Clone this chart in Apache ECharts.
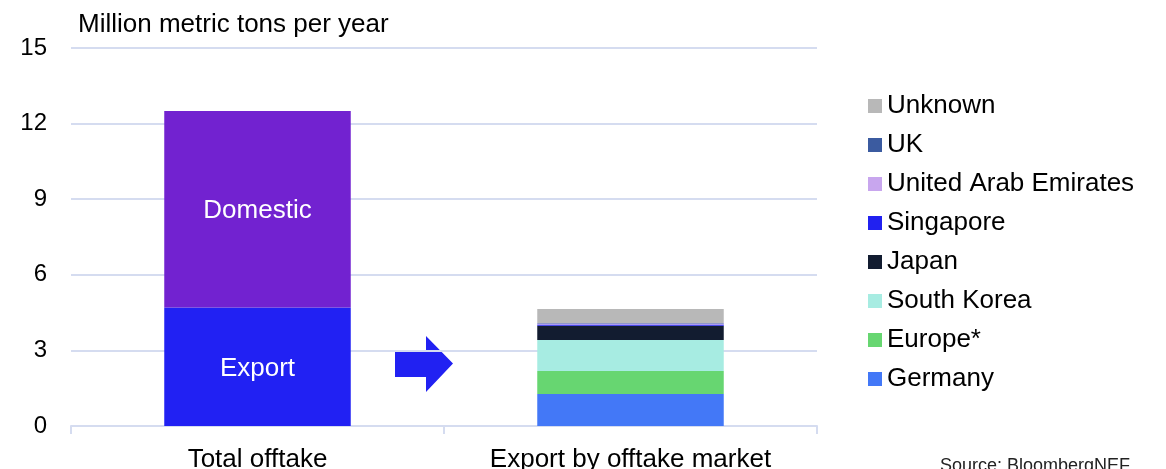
<!DOCTYPE html>
<html>
<head>
<meta charset="utf-8">
<script src="https://cdn.jsdelivr.net/npm/echarts@6/dist/echarts.min.js"></script>
<style>
html,body{margin:0;padding:0;background:#fff;}
#chart{width:1166px;height:469px;}
</style>
</head>
<body>
<div id="chart"></div>
<script>
// ---- data ----
const categories = ['Total offtake', 'Export by offtake market'];
const yTicks = [0, 3, 6, 9, 12, 15];
const totalNames = ['Export', 'Domestic'];
const totalValues = [4.7, 7.8];
const marketNames = ['Germany', 'Europe*', 'South Korea', 'Japan', 'Singapore', 'United Arab Emirates', 'UK', 'Unknown'];
const marketValues = [1.27, 0.91, 1.23, 0.57, 0.05, 0.04, 0.02, 0.55];

// ---- styles ----
const FONT = '"Liberation Sans", Arial, sans-serif';
const totalColors = ['#2121F3', '#7222D0'];
const marketColors = ['#4378F7', '#67D671', '#A7ECE2', '#121C30', '#2121F0', '#C8A6EE', '#3B5BA0', '#B8B8B8'];
const gridColor = '#D5DCF0';

const series = [];
totalNames.forEach((n, i) => {
  series.push({
    name: n, type: 'bar', stack: 'all', barWidth: '50%',
    data: [totalValues[i], null],
    itemStyle: { color: totalColors[i] },
    label: { show: true, position: 'inside', formatter: '{a}', color: '#fff', fontSize: 26, fontFamily: FONT, offset: [0, 2] }
  });
});
marketNames.forEach((n, i) => {
  series.push({
    name: n, type: 'bar', stack: 'all', barWidth: '50%',
    data: [null, marketValues[i]],
    itemStyle: { color: marketColors[i] }
  });
});

const chart = echarts.init(document.getElementById('chart'));
chart.setOption({
  animation: false,
  backgroundColor: '#fff',
  title: {
    text: 'Million metric tons per year', left: 73, top: 7,
    textStyle: { fontSize: 26, fontWeight: 'normal', color: '#000', fontFamily: FONT }
  },
  grid: { left: 71, right: 349, top: 48, bottom: 43, containLabel: false, outerBoundsMode: 'none' },
  legend: {
    orient: 'vertical', left: 863, top: 88, selectedMode: false,
    data: marketNames.slice().reverse(),
    icon: 'rect', itemWidth: 14, itemHeight: 14, itemGap: 13,
    textStyle: { fontSize: 26, lineHeight: 26, color: '#000', fontFamily: FONT }
  },
  xAxis: {
    type: 'category', data: categories,
    axisLine: { lineStyle: { color: gridColor, width: 2 } },
    axisTick: { show: true, length: 8, lineStyle: { color: gridColor, width: 2 } },
    axisLabel: { fontSize: 26, color: '#000', margin: 21, fontFamily: FONT }
  },
  yAxis: {
    type: 'value', min: yTicks[0], max: yTicks[yTicks.length - 1], interval: yTicks[1] - yTicks[0],
    axisLine: { show: false }, axisTick: { show: false },
    splitLine: { lineStyle: { color: gridColor, width: 2 } },
    axisLabel: { fontSize: 24, color: '#000', margin: 24, fontFamily: FONT }
  },
  graphic: [
    {
      type: 'polygon',
      shape: { points: [[395, 350], [426, 350], [426, 336], [453, 363.5], [426, 392], [426, 377], [395, 377]] },
      style: { fill: '#2121F2' }
    },
    {
      type: 'text', left: 940, top: 457,
      style: { text: 'Source: BloombergNEF', fontSize: 18, fill: '#222', font: '18px "Liberation Sans", Arial, sans-serif' }
    }
  ],
  series: series
});
</script>
</body>
</html>
